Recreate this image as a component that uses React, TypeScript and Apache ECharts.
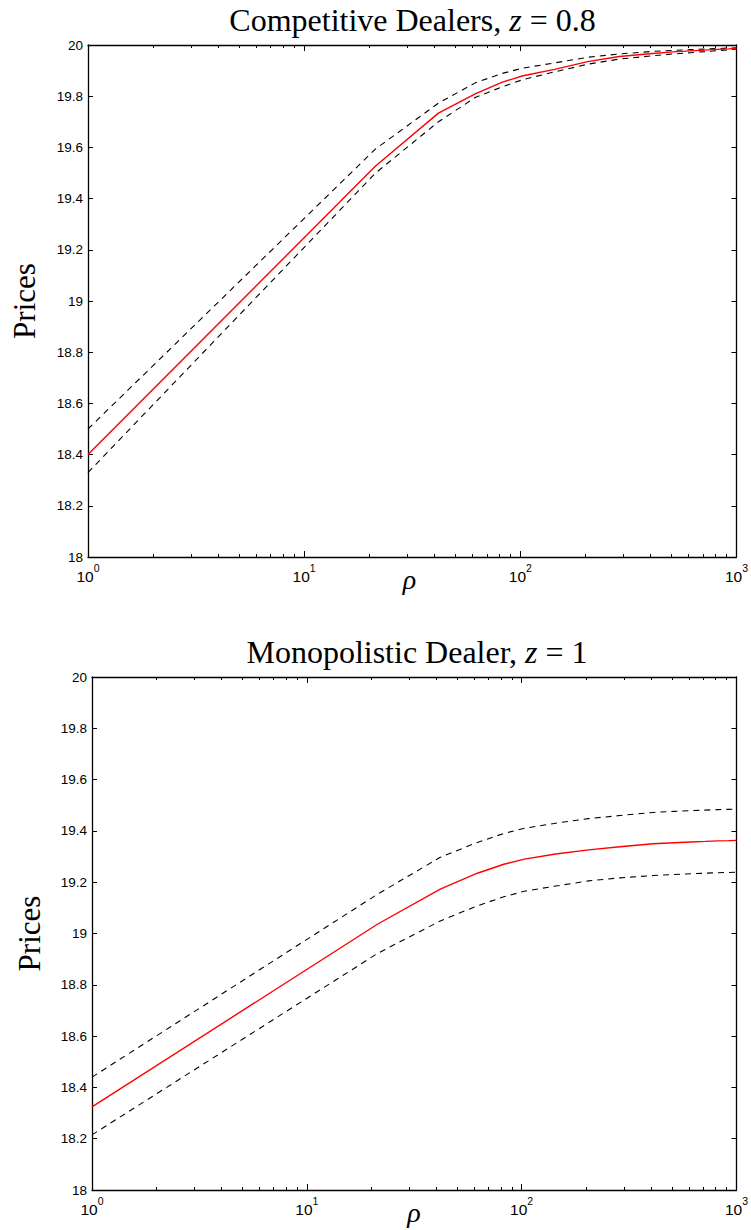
import React, { useEffect, useRef } from "react";
import * as echarts from "echarts";

// rho sample points (linear grid 1..1000, subsampled)
const rho = [1, 21.4, 41.8, 62.2, 82.6, 103, 144, 205, 287, 409, 511, 613, 715, 817, 919, 1000];

// Competitive dealers, z = 0.8
const compMean = [18.4, 19.527, 19.734, 19.81, 19.855, 19.88, 19.905, 19.935, 19.955, 19.967, 19.973, 19.977, 19.98, 19.983, 19.985, 19.987];
const compUpper = [18.5, 19.594, 19.773, 19.853, 19.889, 19.91, 19.93, 19.952, 19.965, 19.975, 19.979, 19.982, 19.984, 19.986, 19.988, 19.989];
const compLower = [18.33, 19.5, 19.7, 19.796, 19.837, 19.865, 19.895, 19.925, 19.945, 19.958, 19.965, 19.97, 19.974, 19.978, 19.981, 19.984];

// Monopolistic dealer, z = 1
const monoMean = [18.324, 19.037, 19.173, 19.235, 19.27, 19.29, 19.31, 19.326, 19.338, 19.35, 19.354, 19.357, 19.359, 19.361, 19.362, 19.363];
const monoUpper = [18.44, 19.154, 19.297, 19.355, 19.39, 19.41, 19.43, 19.448, 19.46, 19.472, 19.476, 19.479, 19.481, 19.483, 19.484, 19.485];
const monoLower = [18.215, 18.923, 19.049, 19.108, 19.143, 19.165, 19.185, 19.205, 19.217, 19.226, 19.23, 19.233, 19.235, 19.237, 19.238, 19.239];

// axes
const xMajor = [1, 10, 100, 1000];
const xMinor = [2, 3, 4, 5, 6, 7, 8, 9, 20, 30, 40, 50, 60, 70, 80, 90, 200, 300, 400, 500, 600, 700, 800, 900];
const yMin = 18;
const yMax = 20;
const yStep = 0.2;

const titles = [
  { head: "Competitive Dealers, ", z: "z", tail: " = 0.8" },
  { head: "Monopolistic Dealer, ", z: "z", tail: " = 1" },
];
const yName = "Prices";
const xName = "ρ";

const panels = [
  { left: 88, top: 45, width: 649, height: 512, mean: compMean, upper: compUpper, lower: compLower, nameX: 24 },
  { left: 92, top: 677, width: 650, height: 513, mean: monoMean, upper: monoUpper, lower: monoLower, nameX: 29 },
];

const SANS = "'Liberation Sans', Arial, Helvetica, sans-serif";
const SERIF = "'Liberation Serif', 'Times New Roman', serif";

export default function App() {
  const ref = useRef<HTMLDivElement>(null);

  useEffect(() => {
    if (!ref.current) return;
    const chart = echarts.init(ref.current, undefined, { renderer: "svg" });

    const grid: any[] = [];
    const xAxis: any[] = [];
    const yAxis: any[] = [];
    const series: any[] = [];
    const graphic: any[] = [];

    panels.forEach((p, g) => {
      grid.push({ left: p.left, top: p.top, width: p.width, height: p.height, containLabel: false });
      const lineStyle = { color: "#000", width: 1.3 };
      const baseX = {
        type: "log",
        logBase: 10,
        min: 1,
        max: 1000,
        gridIndex: g,
        splitLine: { show: false },
        minorTick: { show: false },
        minorSplitLine: { show: false },
      };
      xAxis.push({
        ...baseX,
        position: "bottom",
        axisLine: { show: true, lineStyle },
        axisTick: { show: true, inside: true, length: 6, customValues: xMajor, lineStyle: { color: "#000", width: 1 } },
        axisLabel: {
          show: true,
          customValues: xMajor,
          margin: 5,
          fontFamily: SANS,
          fontSize: 15.5,
          color: "#000",
          formatter: (v: number) => `{b|10}{s|${Math.round(Math.log10(v))}}`,
          rich: {
            b: { fontFamily: SANS, fontSize: 15.5, color: "#000", lineHeight: 22, verticalAlign: "bottom" },
            s: { fontFamily: SANS, fontSize: 10.5, color: "#000", lineHeight: 10.5, verticalAlign: "top" },
          },
        },
      });
      xAxis.push({
        ...baseX,
        position: "bottom",
        axisLine: { show: false },
        axisTick: { show: true, inside: true, length: 3, customValues: xMinor, lineStyle: { color: "#000", width: 1 } },
        axisLabel: { show: false },
      });
      xAxis.push({
        ...baseX,
        position: "top",
        axisLine: { show: true, lineStyle },
        axisTick: { show: true, inside: true, length: 6, customValues: xMajor, lineStyle: { color: "#000", width: 1 } },
        axisLabel: { show: false },
      });
      xAxis.push({
        ...baseX,
        position: "top",
        axisLine: { show: false },
        axisTick: { show: true, inside: true, length: 3, customValues: xMinor, lineStyle: { color: "#000", width: 1 } },
        axisLabel: { show: false },
      });

      const baseY = {
        type: "value",
        min: yMin,
        max: yMax,
        interval: yStep,
        gridIndex: g,
        splitLine: { show: false },
      };
      yAxis.push({
        ...baseY,
        position: "left",
        axisLine: { show: true, lineStyle },
        axisTick: { show: true, inside: true, length: 5, lineStyle: { color: "#000", width: 1 } },
        axisLabel: {
          show: true,
          margin: 5,
          fontFamily: SANS,
          fontSize: 13.5,
          color: "#000",
          formatter: (v: number) => String(Number(v.toFixed(1))),
        },
      });
      yAxis.push({
        ...baseY,
        position: "right",
        axisLine: { show: true, lineStyle },
        axisTick: { show: true, inside: true, length: 5, lineStyle: { color: "#000", width: 1 } },
        axisLabel: { show: false },
      });

      const xi = g * 4;
      const yi = g * 2;
      const mk = (vals: number[]) => rho.map((r, i) => [r, vals[i]]);
      const dashed = { color: "#000", width: 1.1, type: [6, 5] };
      series.push({ type: "line", xAxisIndex: xi, yAxisIndex: yi, data: mk(p.upper), showSymbol: false, symbol: "none", lineStyle: dashed });
      series.push({ type: "line", xAxisIndex: xi, yAxisIndex: yi, data: mk(p.lower), showSymbol: false, symbol: "none", lineStyle: dashed });
      series.push({
        type: "line",
        xAxisIndex: xi,
        yAxisIndex: yi,
        data: mk(p.mean),
        showSymbol: false,
        symbol: "none",
        lineStyle: { color: "#ff0000", width: 1.4 },
      });

      const cx = p.left + p.width / 2;
      const t = titles[g];
      graphic.push({
        type: "text",
        x: cx,
        y: p.top - 25,
        style: {
          text: `{a|${t.head}}{i|${t.z}}{a|${t.tail}}`,
          align: "center",
          verticalAlign: "middle",
          rich: {
            a: { fontFamily: SERIF, fontSize: 32, fill: "#000", color: "#000" },
            i: { fontFamily: SERIF, fontSize: 32, fontStyle: "italic", fill: "#000", color: "#000" },
          },
          fill: "#000",
        },
      });
      graphic.push({
        type: "text",
        x: p.nameX,
        y: p.top + p.height / 2,
        rotation: Math.PI / 2,
        style: {
          text: yName,
          font: `31px ${SERIF}`,
          fill: "#000",
          align: "center",
          verticalAlign: "middle",
        },
      });
      graphic.push({
        type: "text",
        x: cx - 3,
        y: p.top + p.height + 22,
        style: {
          text: xName,
          font: `italic 28px ${SERIF}`,
          fill: "#000",
          align: "center",
          verticalAlign: "middle",
        },
      });
    });

    chart.setOption({
      animation: false,
      backgroundColor: "#fff",
      grid,
      xAxis,
      yAxis,
      series,
      graphic,
    });

    return () => chart.dispose();
  }, []);

  return (
    <div
      ref={ref}
      style={{ position: "absolute", left: 0, top: 0, width: 751, height: 1230 }}
    />
  );
}
